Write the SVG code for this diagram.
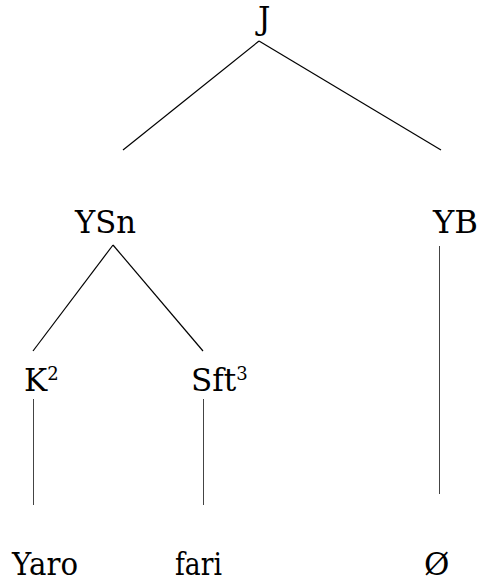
<svg xmlns="http://www.w3.org/2000/svg" width="483" height="585" viewBox="0 0 483 585">
<style>
text{font-family:'DejaVu Serif',serif;font-size:31px;fill:#000}
.sup{font-size:18px}
.e{stroke:#000;stroke-width:1.2;fill:none}
.v{stroke:#444;stroke-width:1;fill:none}
</style>
<rect width="483" height="585" fill="#fff"/>
<g id="connectors">
<line class="e" x1="259" y1="41" x2="123" y2="150"/>
<line class="e" x1="259" y1="41" x2="441" y2="150"/>
<line class="e" x1="113" y1="245" x2="33" y2="351"/>
<line class="e" x1="113" y1="245" x2="203" y2="351"/>
<line class="v" x1="439.5" y1="246" x2="439.5" y2="494"/>
<line class="v" x1="33.5" y1="399" x2="33.5" y2="505"/>
<line class="v" x1="203.5" y1="399" x2="203.5" y2="505"/>
</g>
<g id="node-J"><text x="258" y="29" font-size="30">J</text></g>
<g id="node-YSn"><text x="75" y="233" textLength="61" lengthAdjust="spacingAndGlyphs">YSn</text></g>
<g id="node-YB"><text x="433" y="233" textLength="45" lengthAdjust="spacingAndGlyphs">YB</text></g>
<g id="node-K2"><text x="24" y="391">K<tspan class="sup" dy="-11">2</tspan></text></g>
<g id="node-Sft3"><text x="191" y="391">Sft<tspan class="sup" dy="-11">3</tspan></text></g>
<g id="node-Yaro"><text x="12" y="575" textLength="66" lengthAdjust="spacingAndGlyphs">Yaro</text></g>
<g id="node-fari"><text x="175" y="575" textLength="47" lengthAdjust="spacingAndGlyphs">fari</text></g>
<g id="node-empty"><text x="424" y="575">Ø</text></g>
</svg>
